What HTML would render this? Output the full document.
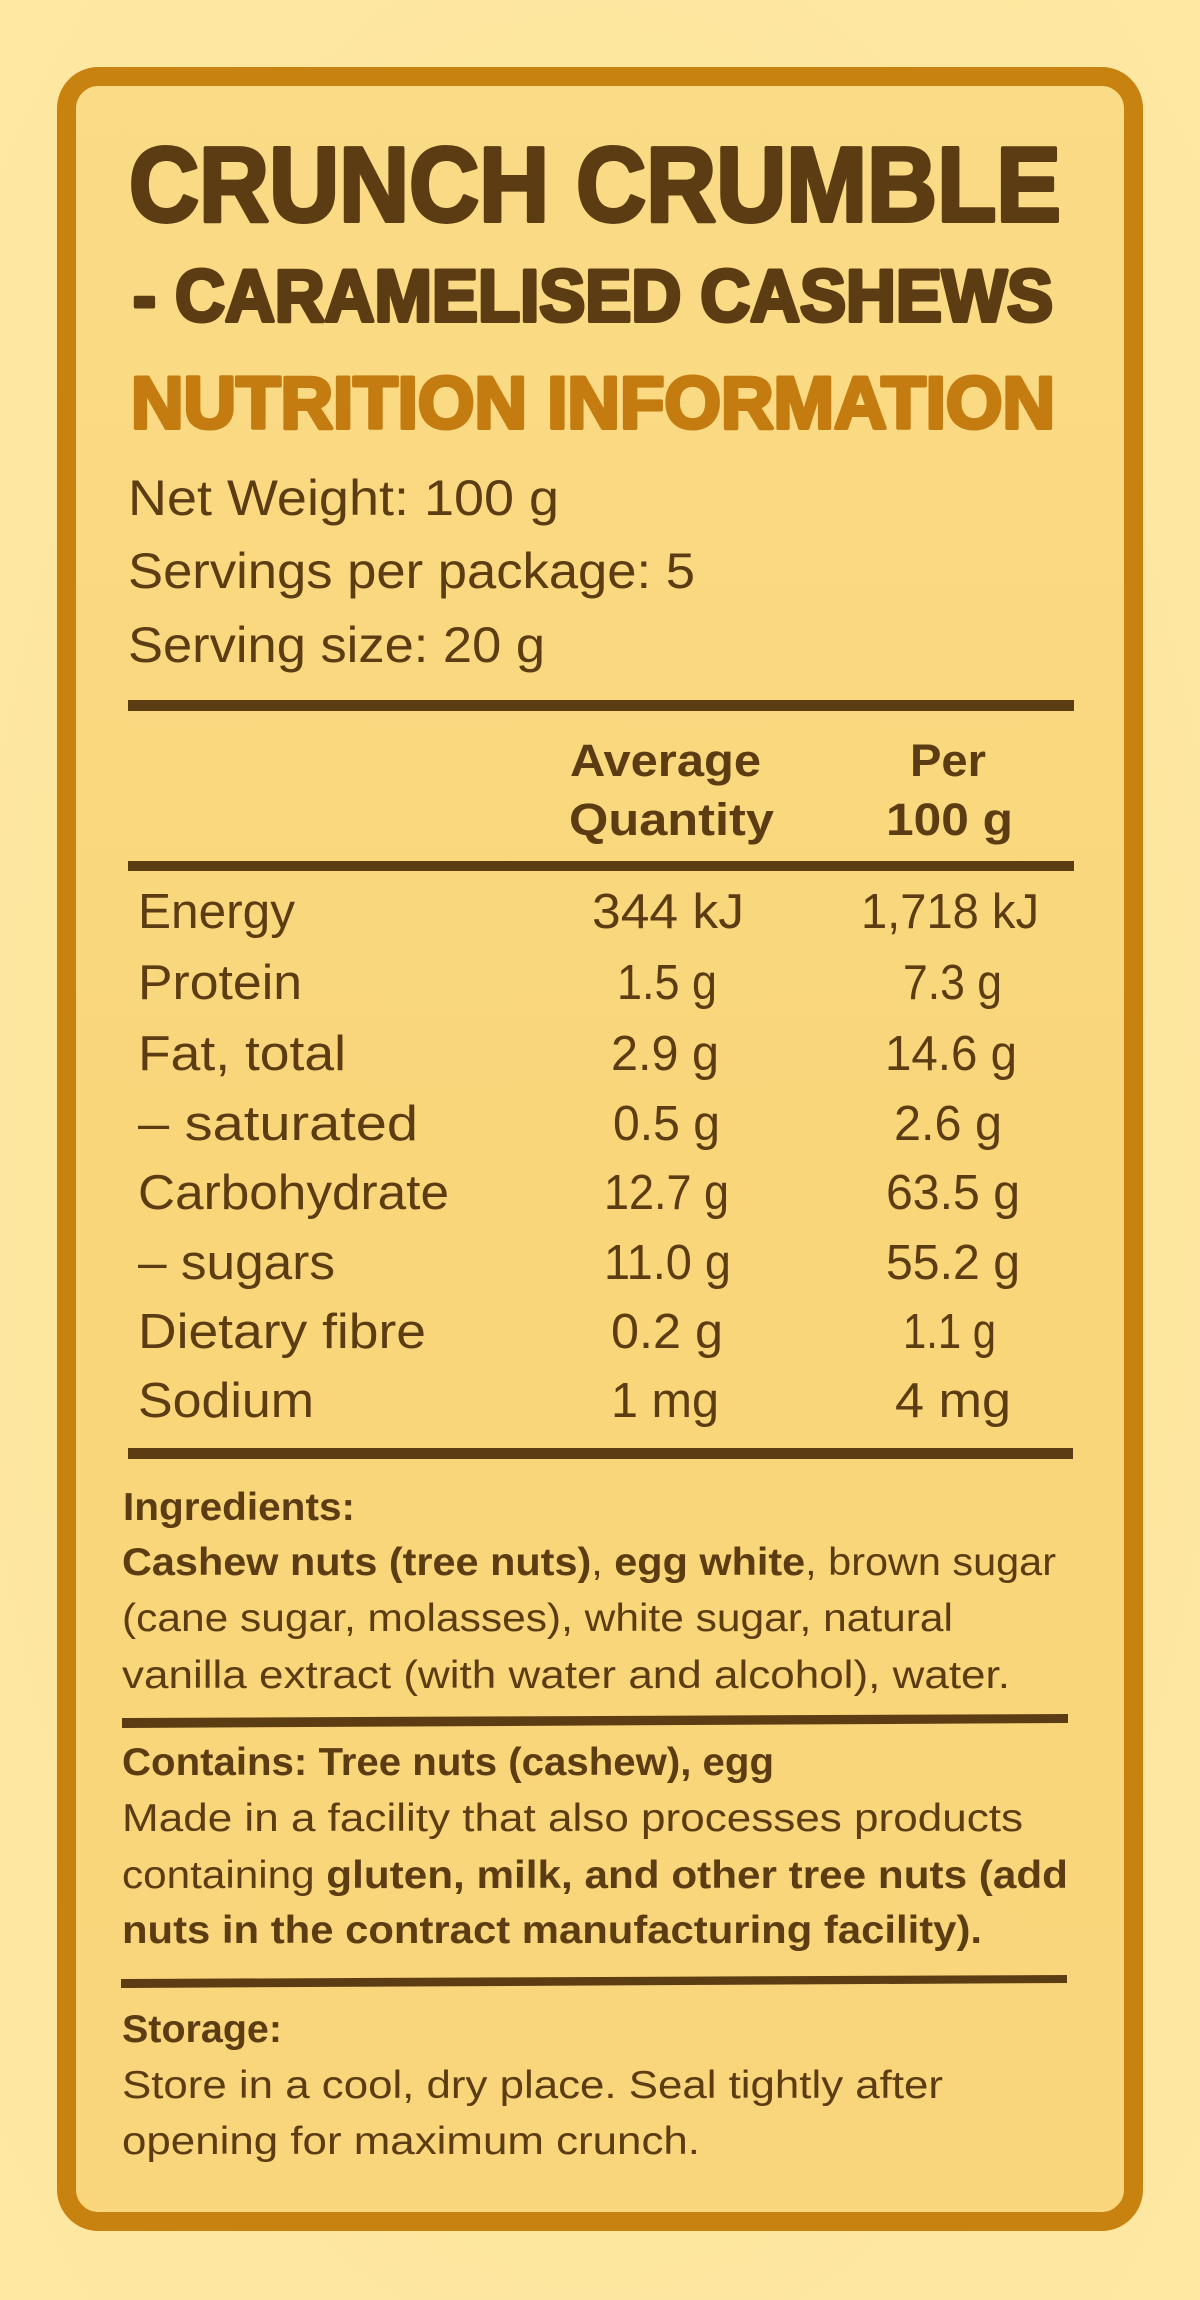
<!DOCTYPE html>
<html>
<head>
<meta charset="utf-8">
<style>
html,body{margin:0;padding:0;width:1200px;height:2300px;overflow:hidden;background:#FDE59B;}
svg{display:block;}
text{font-family:"Liberation Sans", Arial, sans-serif;}
</style>
</head>
<body>
<svg xmlns="http://www.w3.org/2000/svg" width="1200" height="2300" viewBox="0 0 1200 2300">
  <defs>
    <radialGradient id="bg" cx="50%" cy="50%" r="75%">
      <stop offset="0" stop-color="#FCE196"/>
      <stop offset="1" stop-color="#FEE9A3"/>
    </radialGradient>
    <linearGradient id="card" x1="0" y1="0" x2="0" y2="1">
      <stop offset="0" stop-color="#FADB86"/>
      <stop offset="0.5" stop-color="#F9D67A"/>
      <stop offset="1" stop-color="#F9D67B"/>
    </linearGradient>
  </defs>
  <rect x="0" y="0" width="1200" height="2300" fill="url(#bg)"/>
  <!-- card -->
  <rect x="66.5" y="76.5" width="1067" height="2145" rx="32" ry="32" fill="url(#card)" stroke="#C8820F" stroke-width="19"/>

  <!-- titles -->
  <text x="129" y="221" font-size="106" font-weight="bold" fill="#5C3D13" stroke="#5C3D13" stroke-width="4" stroke-linejoin="round" textLength="932" lengthAdjust="spacingAndGlyphs">CRUNCH CRUMBLE</text>
  <text x="133" y="321" font-size="73" font-weight="bold" fill="#5C3D13" stroke="#5C3D13" stroke-width="4" stroke-linejoin="round" textLength="920" lengthAdjust="spacingAndGlyphs">- CARAMELISED CASHEWS</text>
  <text x="131" y="428" font-size="73" font-weight="bold" fill="#C47C10" stroke="#C47C10" stroke-width="4" stroke-linejoin="round" textLength="924" lengthAdjust="spacingAndGlyphs">NUTRITION INFORMATION</text>

  <!-- info lines -->
  <g fill="#5C3D13" font-size="50">
    <text x="128" y="515" textLength="431" lengthAdjust="spacingAndGlyphs">Net Weight: 100 g</text>
    <text x="128" y="588" textLength="567" lengthAdjust="spacingAndGlyphs">Servings per package: 5</text>
    <text x="128" y="662" textLength="417" lengthAdjust="spacingAndGlyphs">Serving size: 20 g</text>
  </g>

  <!-- rules -->
  <rect x="128" y="700" width="946" height="11" fill="#5C3D13"/>
  <rect x="128" y="861" width="946" height="10" fill="#5C3D13"/>
  <rect x="128" y="1448" width="945" height="11" fill="#5C3D13"/>

  <!-- header -->
  <g fill="#5C3D13" font-size="45" font-weight="bold">
    <text x="570" y="776" textLength="191" lengthAdjust="spacingAndGlyphs">Average</text>
    <text x="569" y="835" textLength="205" lengthAdjust="spacingAndGlyphs">Quantity</text>
    <text x="910" y="776" textLength="76" lengthAdjust="spacingAndGlyphs">Per</text>
    <text x="886" y="835" textLength="127" lengthAdjust="spacingAndGlyphs">100 g</text>
  </g>

  <!-- rows -->
  <g fill="#5C3D13" font-size="49">
    <text x="138" y="928" textLength="157" lengthAdjust="spacingAndGlyphs">Energy</text>
    <text x="592" y="928" textLength="152" lengthAdjust="spacingAndGlyphs">344 kJ</text>
    <text x="861" y="928" textLength="178" lengthAdjust="spacingAndGlyphs">1,718 kJ</text>

    <text x="138" y="999" textLength="164" lengthAdjust="spacingAndGlyphs">Protein</text>
    <text x="617" y="999" textLength="100" lengthAdjust="spacingAndGlyphs">1.5 g</text>
    <text x="903" y="999" textLength="99" lengthAdjust="spacingAndGlyphs">7.3 g</text>

    <text x="138" y="1070" textLength="208" lengthAdjust="spacingAndGlyphs">Fat, total</text>
    <text x="611" y="1070" textLength="108" lengthAdjust="spacingAndGlyphs">2.9 g</text>
    <text x="885" y="1070" textLength="132" lengthAdjust="spacingAndGlyphs">14.6 g</text>

    <text x="138" y="1140" textLength="280" lengthAdjust="spacingAndGlyphs">– saturated</text>
    <text x="613" y="1140" textLength="107" lengthAdjust="spacingAndGlyphs">0.5 g</text>
    <text x="894" y="1140" textLength="108" lengthAdjust="spacingAndGlyphs">2.6 g</text>

    <text x="138" y="1209" textLength="311" lengthAdjust="spacingAndGlyphs">Carbohydrate</text>
    <text x="604" y="1209" textLength="125" lengthAdjust="spacingAndGlyphs">12.7 g</text>
    <text x="886" y="1209" textLength="134" lengthAdjust="spacingAndGlyphs">63.5 g</text>

    <text x="138" y="1279" textLength="197" lengthAdjust="spacingAndGlyphs">– sugars</text>
    <text x="604" y="1279" textLength="127" lengthAdjust="spacingAndGlyphs">11.0 g</text>
    <text x="886" y="1279" textLength="134" lengthAdjust="spacingAndGlyphs">55.2 g</text>

    <text x="138" y="1348" textLength="288" lengthAdjust="spacingAndGlyphs">Dietary fibre</text>
    <text x="611" y="1348" textLength="112" lengthAdjust="spacingAndGlyphs">0.2 g</text>
    <text x="903" y="1348" textLength="93" lengthAdjust="spacingAndGlyphs">1.1 g</text>

    <text x="138" y="1417" textLength="176" lengthAdjust="spacingAndGlyphs">Sodium</text>
    <text x="611" y="1417" textLength="108" lengthAdjust="spacingAndGlyphs">1 mg</text>
    <text x="895" y="1417" textLength="116" lengthAdjust="spacingAndGlyphs">4 mg</text>
  </g>

  <!-- ingredients -->
  <g fill="#5C3D13" font-size="39">
    <text x="123" y="1520" font-weight="bold" textLength="232" lengthAdjust="spacingAndGlyphs">Ingredients:</text>
    <text x="122" y="1575" textLength="934" lengthAdjust="spacingAndGlyphs"><tspan font-weight="bold">Cashew nuts (tree nuts)</tspan>, <tspan font-weight="bold">egg white</tspan>, brown sugar</text>
    <text x="122" y="1631" textLength="831" lengthAdjust="spacingAndGlyphs">(cane sugar, molasses), white sugar, natural</text>
    <text x="122" y="1688" textLength="888" lengthAdjust="spacingAndGlyphs">vanilla extract (with water and alcohol), water.</text>
  </g>
  <polygon points="122,1718 1068,1714 1068,1723 122,1728" fill="#5C3D13"/>

  <g fill="#5C3D13" font-size="39">
    <text x="122" y="1775" font-weight="bold" textLength="652" lengthAdjust="spacingAndGlyphs">Contains: Tree nuts (cashew), egg</text>
    <text x="122" y="1831" textLength="901" lengthAdjust="spacingAndGlyphs">Made in a facility that also processes products</text>
    <text x="122" y="1888" textLength="946" lengthAdjust="spacingAndGlyphs">containing <tspan font-weight="bold">gluten, milk, and other tree nuts (add</tspan></text>
    <text x="122" y="1943" font-weight="bold" textLength="860" lengthAdjust="spacingAndGlyphs">nuts in the contract manufacturing facility).</text>
  </g>
  <polygon points="121,1979 1067,1975 1067,1983 121,1988" fill="#5C3D13"/>

  <g fill="#5C3D13" font-size="39">
    <text x="122" y="2042" font-weight="bold" textLength="160" lengthAdjust="spacingAndGlyphs">Storage:</text>
    <text x="122" y="2098" textLength="821" lengthAdjust="spacingAndGlyphs">Store in a cool, dry place. Seal tightly after</text>
    <text x="122" y="2154" textLength="578" lengthAdjust="spacingAndGlyphs">opening for maximum crunch.</text>
  </g>
</svg>
</body>
</html>
